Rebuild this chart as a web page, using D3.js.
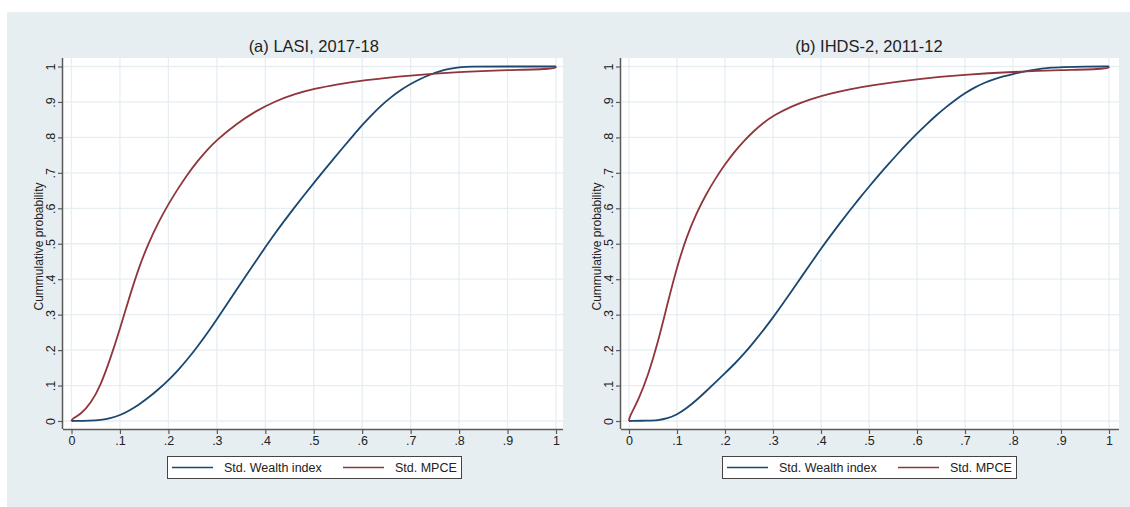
<!DOCTYPE html>
<html>
<head>
<meta charset="utf-8">
<script src="https://cdn.jsdelivr.net/npm/d3@7/dist/d3.min.js"></script>
<style>
  html, body { margin: 0; padding: 0; background: #ffffff; }
  svg { display: block; }
  text { font-family: "Liberation Sans", Arial, sans-serif; fill: #222; }
</style>
</head>
<body>
<svg id="chart" width="1130" height="507"></svg>
<script>
// ---------- data ----------
const panelTitles = ["(a) LASI, 2017-18", "(b) IHDS-2, 2011-12"];
const seriesNames = ["Std. Wealth index", "Std. MPCE"];
const xTicks = [0, 0.1, 0.2, 0.3, 0.4, 0.5, 0.6, 0.7, 0.8, 0.9, 1];
const yTicks = [0, 0.1, 0.2, 0.3, 0.4, 0.5, 0.6, 0.7, 0.8, 0.9, 1];
const tickLabels = ["0", ".1", ".2", ".3", ".4", ".5", ".6", ".7", ".8", ".9", "1"];
const yTitle = "Cummulative probability";

const lasiWealth = [[0,0],[0.04,0.001],[0.06,0.003],[0.08,0.007],[0.1,0.016],[0.12,0.03],[0.14,0.047],[0.16,0.067],[0.18,0.09],[0.2,0.115],[0.22,0.143],[0.24,0.175],[0.26,0.21],[0.28,0.247],[0.3,0.287],[0.32,0.328],[0.34,0.369],[0.36,0.41],[0.38,0.45],[0.4,0.49],[0.42,0.529],[0.44,0.566],[0.46,0.602],[0.48,0.637],[0.5,0.671],[0.52,0.705],[0.54,0.738],[0.56,0.771],[0.58,0.803],[0.6,0.835],[0.62,0.864],[0.64,0.891],[0.66,0.914],[0.68,0.934],[0.7,0.951],[0.72,0.965],[0.74,0.977],[0.76,0.987],[0.78,0.994],[0.8,0.998],[0.82,1],[0.9,1],[1,1]];
const lasiMpce = [[0,0],[0,0.005],[0.02,0.02],[0.04,0.05],[0.06,0.1],[0.08,0.175],[0.1,0.26],[0.12,0.352],[0.14,0.437],[0.16,0.505],[0.18,0.562],[0.2,0.612],[0.22,0.656],[0.24,0.697],[0.26,0.733],[0.28,0.765],[0.3,0.793],[0.34,0.838],[0.38,0.874],[0.42,0.902],[0.46,0.922],[0.5,0.937],[0.55,0.95],[0.6,0.961],[0.7,0.975],[0.8,0.985],[0.9,0.99],[1,0.993],[1,1]];
const ihdsWealth = [[0,0],[0.04,0.001],[0.06,0.002],[0.08,0.007],[0.1,0.018],[0.12,0.036],[0.14,0.058],[0.16,0.083],[0.18,0.109],[0.2,0.135],[0.22,0.161],[0.24,0.19],[0.26,0.222],[0.28,0.256],[0.3,0.292],[0.32,0.33],[0.34,0.369],[0.36,0.408],[0.38,0.447],[0.4,0.486],[0.42,0.523],[0.44,0.559],[0.46,0.594],[0.48,0.628],[0.5,0.661],[0.52,0.693],[0.54,0.724],[0.56,0.754],[0.58,0.783],[0.6,0.811],[0.62,0.837],[0.64,0.862],[0.66,0.885],[0.68,0.906],[0.7,0.925],[0.72,0.941],[0.74,0.954],[0.76,0.964],[0.78,0.972],[0.8,0.979],[0.82,0.985],[0.84,0.99],[0.86,0.994],[0.88,0.997],[0.9,0.998],[0.95,1],[1,1]];
const ihdsMpce = [[0,0],[0,0.01],[0.02,0.06],[0.04,0.13],[0.06,0.22],[0.08,0.33],[0.1,0.435],[0.12,0.52],[0.14,0.585],[0.16,0.638],[0.18,0.684],[0.2,0.724],[0.22,0.76],[0.24,0.791],[0.26,0.818],[0.28,0.841],[0.3,0.861],[0.34,0.889],[0.38,0.909],[0.42,0.924],[0.46,0.936],[0.5,0.946],[0.6,0.965],[0.7,0.977],[0.8,0.985],[0.9,0.99],[1,0.993],[1,1]];

const panelData = [[lasiWealth, lasiMpce], [ihdsWealth, ihdsMpce]];
const seriesColors = ["#1a476f", "#90353b"];

// ---------- layout ----------
const svg = d3.select("#chart");
svg.append("rect").attr("x", 7).attr("y", 12).attr("width", 1123).attr("height", 495).attr("fill", "#e7eef1");

const panels = [
  { x0: 71.5, x1: 556, left: 63, right: 563, legX: 167 },
  { x0: 629, x1: 1109, left: 621, right: 1119, legX: 722 }
];
const yTop = 66.5, yBot = 421, plotTop = 58, axisY = 429;
const font = '"Liberation Sans", Arial, sans-serif';

panels.forEach((p, i) => {
  const x = d3.scaleLinear().domain([0, 1]).range([p.x0, p.x1]);
  const y = d3.scaleLinear().domain([0, 1]).range([yBot, yTop]);
  const g = svg.append("g");

  // plot region
  g.append("rect").attr("x", p.left).attr("y", plotTop)
    .attr("width", p.right - p.left).attr("height", axisY - plotTop).attr("fill", "#ffffff");

  // grid
  g.selectAll(".vg").data(xTicks).join("line")
    .attr("x1", d => x(d)).attr("x2", d => x(d))
    .attr("y1", plotTop).attr("y2", axisY)
    .attr("stroke", "#e6eef2").attr("stroke-width", 1.3);
  g.selectAll(".hg").data(yTicks).join("line")
    .attr("x1", p.left).attr("x2", p.right)
    .attr("y1", d => y(d)).attr("y2", d => y(d))
    .attr("stroke", "#e6eef2").attr("stroke-width", 1.3);

  // curves
  const line = d3.line().x(d => x(d[0])).y(d => y(d[1])).curve(d3.curveBasis);
  panelData[i].forEach((s, k) => {
    g.append("path").attr("d", line(s)).attr("fill", "none")
      .attr("stroke", seriesColors[k]).attr("stroke-width", 1.8)
      .attr("stroke-linejoin", "round");
  });

  // x axis
  const xAxis = g.append("g").attr("transform", `translate(0,${axisY})`)
    .call(d3.axisBottom(x).tickValues(xTicks).tickFormat((d, j) => tickLabels[j]).tickSize(5).tickSizeOuter(0));
  xAxis.select(".domain").attr("d", `M${p.left},0.5H${p.right}`).attr("stroke", "#5a5a5a").attr("stroke-width", 1.5);
  xAxis.selectAll(".tick line").attr("stroke", "#5a5a5a").attr("stroke-width", 1.2);
  xAxis.selectAll(".tick text").attr("font-size", 12.5).attr("fill", "#222").attr("dy", "0.85em").attr("y", 5)
    .style("font-family", font);

  // y axis
  const yAxis = g.append("g").attr("transform", `translate(${p.left},0)`)
    .call(d3.axisLeft(y).tickValues(yTicks).tickFormat((d, j) => tickLabels[j]).tickSize(5).tickSizeOuter(0));
  yAxis.select(".domain").attr("d", `M-0.5,${plotTop}V${axisY}`).attr("stroke", "#5a5a5a").attr("stroke-width", 1.5);
  yAxis.selectAll(".tick line").attr("stroke", "#5a5a5a").attr("stroke-width", 1.2);
  yAxis.selectAll(".tick text").attr("font-size", 12.5).attr("fill", "#222")
    .attr("x", null).attr("dy", "0")
    .attr("text-anchor", "middle")
    .attr("transform", "translate(-8,0) rotate(-90)")
    .style("font-family", font);

  // y title
  g.append("text").attr("transform", `translate(${p.left - 20},${(plotTop + axisY) / 2 + 3}) rotate(-90)`)
    .attr("text-anchor", "middle").attr("font-size", 12).text(yTitle);

  // panel title
  g.append("text").attr("x", (p.x0 + p.x1) / 2).attr("y", 52)
    .attr("text-anchor", "middle").attr("font-size", 16.5).text(panelTitles[i]);

  // legend
  const lg = g.append("g").attr("transform", `translate(${p.legX},456)`);
  lg.append("rect").attr("x", 0.5).attr("y", 0.5).attr("width", 294).attr("height", 22)
    .attr("fill", "#ffffff").attr("stroke", "#444").attr("stroke-width", 1);
  const offs = [0, 171];
  seriesNames.forEach((nm, k) => {
    lg.append("line").attr("x1", 5 + offs[k]).attr("x2", 46 + offs[k]).attr("y1", 11.5).attr("y2", 11.5)
      .attr("stroke", seriesColors[k]).attr("stroke-width", 1.6);
    lg.append("text").attr("x", 57 + offs[k]).attr("y", 15.5).attr("font-size", 12.5).text(nm);
  });
});
</script>
</body>
</html>
